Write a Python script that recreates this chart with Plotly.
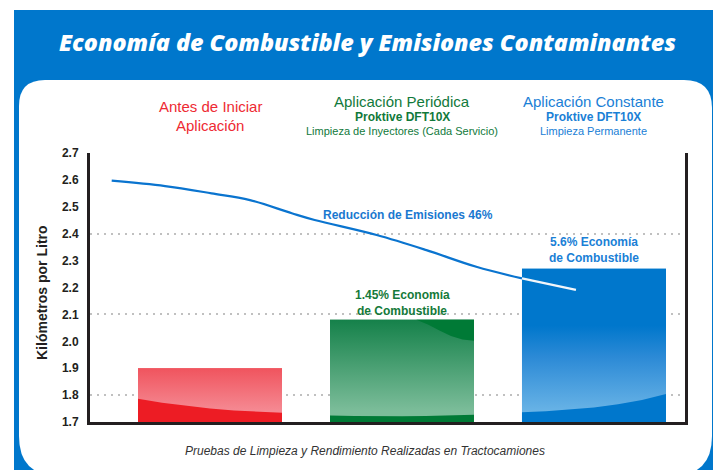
import plotly.graph_objects as go

# ---------------- data ----------------
categories = ["Antes de Iniciar Aplicación", "Aplicación Periódica", "Aplicación Constante"]
cat_pos = [0, 1, 2]
km_por_litro = [1.90, 2.08, 2.27]

# emissions curve (in category/axis units)
emis_x = [-0.512, -0.234, 0.008, 0.208, 0.426, 0.545, 0.868, 1.127, 1.387, 1.625, 1.906]
emis_y = [2.597, 2.577, 2.550, 2.525, 2.476, 2.451, 2.395, 2.339, 2.277, 2.234, 2.191]

y_ticks = [1.7, 1.8, 1.9, 2.0, 2.1, 2.2, 2.3, 2.4, 2.5, 2.6, 2.7]
grid_vals = [1.8, 2.1, 2.4, 2.7]

title_text = "Economía de Combustible y Emisiones Contaminantes"
y_title = "Kilómetros por Litro"
footer = "Pruebas de Limpieza y Rendimiento Realizadas en Tractocamiones"
emis_label = "Reducción de Emisiones 46%"
bar_labels = [None, ["1.45% Economía", "de Combustible"], ["5.6% Economía", "de Combustible"]]
headers = [
    [("Antes de Iniciar", 15, 400), ("Aplicación", 15, 400)],
    [("Aplicación Periódica", 15, 400), ("Proktive DFT10X", 12, 700), ("Limpieza de Inyectores (Cada Servicio)", 11, 400)],
    [("Aplicación Constante", 15, 400), ("Proktive DFT10X", 12, 700), ("Limpieza Permanente", 11, 400)],
]

# ---------------- style ----------------
W, H = 721, 470
OFF = 8                      # page body margin
L, R, T, B = 90, 685, 153, 422   # plot box in page pixels
Y_MIN, Y_MAX = 1.7, 2.7
X_MIN, X_MAX = -0.625, 2.474
BAR_W = 0.75
FONT = "Liberation Sans"
BLUE = "#0077cc"
RED_TXT = "#ee2a33"
GREEN_TXT = "#11793b"
BLUE_TXT = "#1a80d6"
DARK = "#231f20"


def px_x(px):
    return (px - L) / (R - L)


def px_y(py):
    return (B - py) / (B - T)


fig = go.Figure()

# bars (base)
bar_top_colors = ["#f0565f", "#1a8448", BLUE]
fig.add_trace(go.Bar(x=cat_pos, y=km_por_litro, width=BAR_W, marker=dict(color=bar_top_colors, line=dict(width=0)),
                     hoverinfo="skip", showlegend=False))

# gradient overlays on bars, derived from bar values
grads = [
    [[0, "#f58a93"], [1, "#f0545e"]],
    [[0, "#7cbd9a"], [1, "#15814a"]],
    [[0, "#68b3e6"], [0.38, "#2c8ad6"], [0.6, BLUE], [1, BLUE]],
]
for i, v in zip(cat_pos, km_por_litro):
    x0, x1 = i - BAR_W / 2, i + BAR_W / 2
    fig.add_trace(go.Scatter(x=[x0, x1, x1, x0, x0], y=[Y_MIN, Y_MIN, v, v, Y_MIN], mode="lines",
                             line=dict(width=0), fill="toself",
                             fillgradient=dict(type="vertical", colorscale=grads[i], start=Y_MIN + 0.04, stop=v),
                             hoverinfo="skip", showlegend=False))


# decorative darker wedges at the bar bottoms (heights as fractions of the edge profile)
def wedge(i, prof, color):
    x0 = i - BAR_W / 2
    n = len(prof) - 1
    xs = [x0 + BAR_W * j / n for j in range(n + 1)]
    ys = [Y_MIN + p for p in prof]
    fig.add_trace(go.Scatter(x=[x0] + xs + [x0 + BAR_W, x0], y=[Y_MIN] + ys + [Y_MIN, Y_MIN], mode="lines",
                             line=dict(width=0), fill="toself", fillcolor=color,
                             hoverinfo="skip", showlegend=False))


wedge(0, [0.086, 0.072, 0.060, 0.050, 0.043, 0.038, 0.034], "#ed1c24")
wedge(1, [0.024, 0.022, 0.021, 0.021, 0.022, 0.024, 0.027], "#007a36")
wedge(2, [0.036, 0.040, 0.046, 0.054, 0.066, 0.082, 0.104], BLUE)

# green bar top-right dark band
g = km_por_litro[1]
gx0 = 1 - BAR_W / 2
band_fx = [0.60, 0.68, 0.76, 0.84, 0.92, 1.0]
band_dy = [0.0, 0.018, 0.040, 0.060, 0.073, 0.078]
fig.add_trace(go.Scatter(
    x=[gx0 + f * BAR_W for f in band_fx] + [gx0 + BAR_W, gx0 + 0.60 * BAR_W],
    y=[g - d for d in band_dy] + [g, g],
    mode="lines", line=dict(width=0), fill="toself", fillcolor="#007a36",
    hoverinfo="skip", showlegend=False))

# emissions line: blue, white where over the blue bar
edge = 2 - BAR_W / 2
k = next(j for j, xv in enumerate(emis_x) if xv >= edge - 1e-9)
fig.add_trace(go.Scatter(x=emis_x[:k + 1], y=emis_y[:k + 1], mode="lines",
                         line=dict(color="#0a74cf", width=2.2, shape="spline"), hoverinfo="skip", showlegend=False))
fig.add_trace(go.Scatter(x=emis_x[k:], y=emis_y[k:], mode="lines",
                         line=dict(color="#f2f6fa", width=2.2, shape="spline"), hoverinfo="skip", showlegend=False))

# grid-only overlay axis trace (invisible)
fig.add_trace(go.Scatter(x=[X_MIN], y=[Y_MIN], yaxis="y2", mode="markers", marker=dict(opacity=0),
                         hoverinfo="skip", showlegend=False))


# ---------------- shapes (background) ----------------
def rounded_path(x0, y0, x1, y1, rtl, rtr, rbr, rbl):
    def P(px, py):
        return f"{px_x(px):.5f},{px_y(py):.5f}"
    return (f"M {P(x0 + rtl, y0)} L {P(x1 - rtr, y0)} Q {P(x1, y0)} {P(x1, y0 + rtr)} "
            f"L {P(x1, y1 - rbr)} Q {P(x1, y1)} {P(x1 - rbr, y1)} "
            f"L {P(x0 + rbl, y1)} Q {P(x0, y1)} {P(x0, y1 - rbl)} "
            f"L {P(x0, y0 + rtl)} Q {P(x0, y0)} {P(x0 + rtl, y0)} Z")


shapes = [
    dict(type="rect", xref="paper", yref="paper", x0=px_x(14), x1=px_x(740), y0=px_y(490), y1=px_y(10),
         fillcolor=BLUE, line=dict(width=0), layer="below"),
    dict(type="path", xref="paper", yref="paper", path=rounded_path(19, 80, 712, 476, 26, 28, 40, 40),
         fillcolor="white", line=dict(width=0), layer="below"),
]

# ---------------- annotations ----------------
ann = []
ann.append(dict(text=f"<i>{title_text}</i>", x=px_x(367), y=px_y(42), xref="paper", yref="paper",
                showarrow=False, font=dict(family="Open Sans", size=23.3, color="white", weight=800),
                xanchor="center", yanchor="middle"))
ann.append(dict(text=f"<b>{y_title}</b>", x=px_x(42), y=px_y(293), xref="paper", yref="paper", textangle=-90,
                showarrow=False, font=dict(family=FONT, size=14, color=DARK), xanchor="center", yanchor="middle"))
ann.append(dict(text=f"<i>{footer}</i>", x=px_x(365), y=px_y(451), xref="paper", yref="paper",
                showarrow=False, font=dict(family=FONT, size=12, color="#333333"), xanchor="center", yanchor="middle"))

header_colors = [RED_TXT, GREEN_TXT, BLUE_TXT]
header_rows = [[106, 125], [101, 117, 131], [101, 117, 131]]
for i, rows in enumerate(headers):
    for (txt, size, wt), py in zip(rows, header_rows[i]):
        ann.append(dict(text=txt, x=cat_pos[i], xref="x", y=px_y(py), yref="paper", showarrow=False,
                        font=dict(family=FONT, size=size, color=header_colors[i], weight=wt),
                        xanchor="center", yanchor="middle"))

ann.append(dict(text=f"<b>{emis_label}</b>", x=1.03, xref="x", y=px_y(215), yref="paper", showarrow=False,
                font=dict(family=FONT, size=12, color="#1a78d0"), xanchor="center", yanchor="middle"))
lab_colors = [None, "#157a3a", "#1a80d6"]
lab_rows = [None, [295, 311], [242, 258]]
for i in (1, 2):
    for txt, py in zip(bar_labels[i], lab_rows[i]):
        ann.append(dict(text=f"<b>{txt}</b>", x=cat_pos[i], xref="x", y=px_y(py), yref="paper", showarrow=False,
                        font=dict(family=FONT, size=12, color=lab_colors[i]), xanchor="center", yanchor="middle"))

fig.update_layout(
    width=W, height=H,
    margin=dict(l=L - OFF, r=W - (R - OFF), t=T - OFF, b=H - (B - OFF), pad=0),
    paper_bgcolor="white", plot_bgcolor="rgba(0,0,0,0)",
    showlegend=False, barmode="overlay",
    shapes=shapes, annotations=ann,
    xaxis=dict(range=[X_MIN, X_MAX], showgrid=False, zeroline=False, showticklabels=False, ticks="",
               showline=True, linecolor=DARK, linewidth=3, fixedrange=True),
    yaxis=dict(range=[Y_MIN, Y_MAX], tickvals=y_ticks, ticktext=[f"{v:.1f}" for v in y_ticks],
               showgrid=False, zeroline=False, ticks="", ticklabelstandoff=6,
               tickfont=dict(family=FONT, size=12, color=DARK, weight=700),
               showline=True, linecolor=DARK, linewidth=3, mirror=True, fixedrange=True),
    yaxis2=dict(range=[Y_MIN, Y_MAX], overlaying="y", tickvals=grid_vals, showticklabels=False, ticks="",
                showgrid=True, gridcolor="#c0c0c0", gridwidth=2, griddash="2px,5px", zeroline=False,
                showline=False, fixedrange=True),
)

fig.write_html("out.html")
